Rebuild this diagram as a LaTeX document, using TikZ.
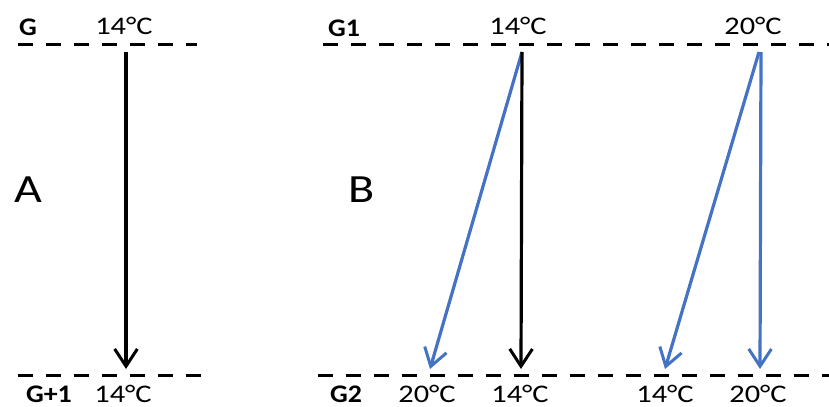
\documentclass[tikz,border=0pt]{standalone}
\usepackage{fontspec}
\usepackage{graphicx}
\setmainfont{Carlito}
\usetikzlibrary{arrows.meta}
\definecolor{arrowblue}{RGB}{68,114,196}
\newcommand\sx[1]{\scalebox{1.2}[1]{#1}}
\newcommand\sg[1]{\scalebox{1.1}[1]{#1}}
\tikzset{
  genline/.style={line width=2.25pt, dash pattern=on 11.25pt off 9.75pt},
  temp/.style={inner sep=0pt, font=\fontsize{19}{22}\selectfont},
  gen/.style={inner sep=0pt, font=\fontsize{19}{22}\selectfont\bfseries},
  panel/.style={inner sep=0pt, font=\fontsize{30}{34}\selectfont},
  inherit/.style={line width=2.4pt, -{Straight Barb[length=13pt, width=17pt, line width=2.25pt]}},
  blackarrow/.style={inherit, black},
  bluearrow/.style={inherit, arrowblue},
}
\begin{document}
\begin{tikzpicture}[x=0.75pt, y=-0.75pt]
\useasboundingbox (0,0) rectangle (829,407);
% generation lines
\coordinate (La) at (18,44); \coordinate (Lb) at (197,44);
\coordinate (Lc) at (18,375); \coordinate (Ld) at (205,375);
\coordinate (Ra) at (323,44); \coordinate (Rb) at (829,44);
\coordinate (Rc) at (318,375); \coordinate (Rd) at (829,375);
\draw[genline] (La) -- (Lb);
\draw[genline] (Lc) -- (Ld);
\draw[genline] (Ra) -- (Rb);
\draw[genline] (Rc) -- (Rd);
% labels panel A
\node[gen] (gA) at (28,27) {\sg{G}};
\node[temp] (tA1) at (124,26) {\sx{14°C}};
\node[gen] (gA2) at (49,394) {\sg{G+1}};
\node[temp] (tA2) at (123,394) {\sx{14°C}};
\node[panel] (pA) at (28,190) {\sx{A}};
% labels panel B
\node[gen] (gB1) at (344,28) {\sg{G1}};
\node[temp] (tB1) at (518,26) {\sx{14°C}};
\node[temp] (tB2) at (753,26) {\sx{20°C}};
\node[gen] (gB2) at (346,394) {\sg{G2}};
\node[temp] (bB1) at (427,394) {\sx{20°C}};
\node[temp] (bB2) at (520,394) {\sx{14°C}};
\node[temp] (bB3) at (665,394) {\sx{14°C}};
\node[temp] (bB4) at (758,394) {\sx{20°C}};
\node[panel] (pB) at (362,190) {\sx{B}};
% arrow end points
\coordinate (sA) at (126,52); \coordinate (eA) at (126,369);
\coordinate (s14) at (522,52);
\coordinate (s20a) at (759,52); \coordinate (s20b) at (761,52);
\coordinate (e1) at (430,369); \coordinate (e2) at (521,369);
\coordinate (e3) at (665,369); \coordinate (e4) at (760,369);
\draw[blackarrow] (sA) -- (eA);
\draw[bluearrow] (s14) -- (e1);
\draw[blackarrow] (s14) -- (e2);
\draw[bluearrow] (s20a) -- (e3);
\draw[bluearrow] (s20b) -- (e4);
\end{tikzpicture}
\end{document}
